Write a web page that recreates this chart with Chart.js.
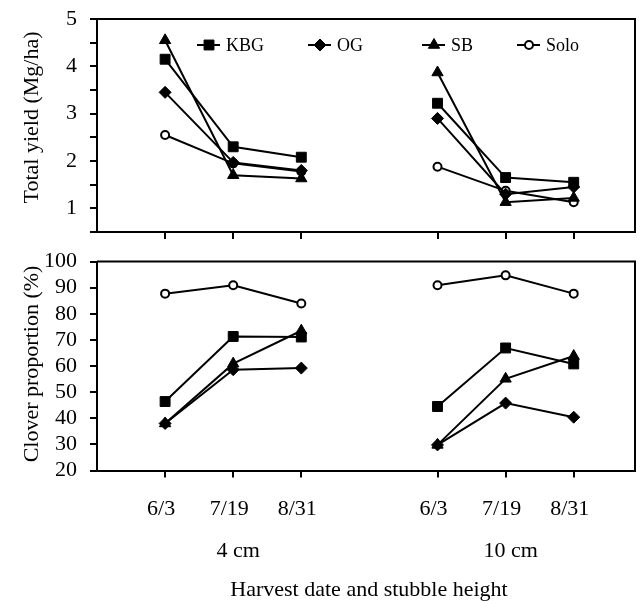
<!DOCTYPE html>
<html><head><meta charset="utf-8">
<script src="https://cdn.jsdelivr.net/npm/chart.js@4/dist/chart.umd.min.js"></script>
<style>
html,body{margin:0;padding:0;background:#fff;}
#wrap{position:relative;width:643px;height:601px;overflow:hidden;}
#c1{position:absolute;left:0;top:0;}
#c2{position:absolute;left:0;top:245px;}
</style></head><body>
<div id="wrap"><canvas id="c1" width="643" height="245"></canvas><canvas id="c2" width="643" height="356"></canvas></div>
<script>
// ---- data ----
const dates = ['6/3', '7/19', '8/31'];
const heights = ['4 cm', '10 cm'];
const seriesNames = ['KBG', 'OG', 'SB', 'Solo'];
const yieldKBG  = [4.15, 2.30, 2.08, 3.22, 1.65, 1.55];
const yieldOG   = [3.45, 1.97, 1.80, 2.90, 1.30, 1.45];
const yieldSB   = [4.55, 1.70, 1.63, 3.87, 1.13, 1.22];
const yieldSolo = [2.55, 1.95, 1.78, 1.88, 1.37, 1.13];
const cloverKBG  = [46.4, 71.3, 71.1, 44.5, 66.9, 60.8];
const cloverOG   = [38.0, 58.6, 59.2, 29.8, 45.8, 40.4];
const cloverSB   = [38.0, 60.9, 73.5, 29.8, 55.1, 63.8];
const cloverSolo = [87.7, 90.9, 83.9, 90.9, 94.7, 87.7];
const yieldTicks = [1, 2, 3, 4, 5];
const cloverTicks = [20, 30, 40, 50, 60, 70, 80, 90, 100];
const yieldTitle = 'Total yield (Mg/ha)';
const cloverTitle = 'Clover proportion (%)';
const xTitle = 'Harvest date and stubble height';

// ---- helpers ----
const FONT = 'Liberation Serif';
const slotsPerGroup = dates.length + 1;
const xTickVals = [];
const xTickText = {};
heights.forEach((h, g) => dates.forEach((d, i) => {
  const v = g * slotsPerGroup + i + 1; xTickVals.push(v); xTickText[v] = d;
}));
function pts(vals) {
  const out = [];
  heights.forEach((h, g) => {
    if (g > 0) out.push({x: g * slotsPerGroup, y: null});
    dates.forEach((d, i) => out.push({x: g * slotsPerGroup + i + 1, y: vals[g * dates.length + i]}));
  });
  return out;
}
const styles = [
  {pointStyle: 'rect', pointRadius: 7, pointBackgroundColor: '#000', pointBorderWidth: 1},
  {pointStyle: 'rectRot', pointRadius: 6, pointBackgroundColor: '#000', pointBorderWidth: 1},
  {pointStyle: 'triangle', pointRadius: 6.5, pointBackgroundColor: '#000', pointBorderWidth: 1},
  {pointStyle: 'circle', pointRadius: 4, pointBackgroundColor: '#fff', pointBorderWidth: 2}
];
function makeDatasets(arrs) {
  return arrs.map((a, k) => Object.assign({
    label: seriesNames[k], data: pts(a), borderColor: '#000', borderWidth: 2,
    pointBorderColor: '#000', pointHoverRadius: 6, spanGaps: false, tension: 0, fill: false, clip: false
  }, styles[k]));
}
function noPad(s) { s.paddingTop = 0; s.paddingBottom = 0; s.paddingLeft = 0; s.paddingRight = 0; }
function xScale(showLabels, h) {
  return {
    type: 'linear', min: 0, max: 7.9,
    afterBuildTicks: s => { s.ticks = xTickVals.map(v => ({value: v})); },
    afterFit: s => { s.height = h; noPad(s); },
    grid: {drawOnChartArea: false, drawTicks: true, tickLength: 7, color: '#000', lineWidth: 2},
    border: {display: true, color: '#000', width: 2},
    ticks: {display: true, autoSkip: false, maxRotation: 0, padding: 19, labelOffset: -4,
      color: '#000', font: {family: FONT, size: 22},
      callback: v => showLabels ? (xTickText[v] || '') : ''}
  };
}
function yScale(min, max, step, labelled) {
  return {
    type: 'linear', min: min, max: max,
    afterBuildTicks: s => {
      const t = [];
      for (let v = min; v <= max + 1e-9; v += step) t.push({value: Math.round(v * 1000) / 1000});
      s.ticks = t;
    },
    afterFit: s => { s.width = 97; noPad(s); },
    grid: {drawOnChartArea: false, drawTicks: true, tickLength: 7, color: '#000', lineWidth: 2},
    border: {display: true, color: '#000', width: 2},
    ticks: {autoSkip: false, padding: 13, color: '#000', font: {family: FONT, size: 22},
      callback: v => labelled.includes(v) ? String(v) : ''}
  };
}
const framePlugin = {
  id: 'frame',
  afterDraw(chart) {
    const {ctx, chartArea: a} = chart;
    ctx.save(); ctx.strokeStyle = '#000'; ctx.lineWidth = 2;
    ctx.beginPath(); ctx.moveTo(a.left, a.top); ctx.lineTo(a.right, a.top); ctx.lineTo(a.right, a.bottom); ctx.stroke();
    const t = chart.options.plugins.frame;
    ctx.fillStyle = '#000'; ctx.font = '22px "' + FONT + '"'; ctx.textAlign = 'center'; ctx.textBaseline = 'middle';
    ctx.save(); ctx.translate(32, (a.top + a.bottom) / 2 + t.yTitleShift); ctx.rotate(-Math.PI / 2);
    ctx.fillText(t.yTitle, 0, 0); ctx.restore();
    if (t.groups) {
      const xs = chart.scales.x;
      heights.forEach((h, g) => {
        ctx.fillText(h, xs.getPixelForValue(g * slotsPerGroup + 2) + 5, a.bottom + 81);
      });
      ctx.fillText(xTitle, (a.left + a.right) / 2 + 3, a.bottom + 120);
    }
    ctx.restore();
  }
};
const legendPlugin = {
  id: 'innerLegend',
  afterDraw(chart) {
    const o = chart.options.plugins.innerLegend;
    if (!o || !o.show) return;
    const ctx = chart.ctx;
    const starts = [197, 308, 422, 517];
    const y = 45;
    chart.data.datasets.forEach((ds, k) => {
      const x0 = starts[k];
      ctx.save();
      ctx.strokeStyle = '#000'; ctx.lineWidth = 2;
      ctx.beginPath(); ctx.moveTo(x0, y); ctx.lineTo(x0 + 23, y); ctx.stroke();
      ctx.fillStyle = ds.pointBackgroundColor; ctx.strokeStyle = '#000'; ctx.lineWidth = ds.pointBorderWidth;
      Chart.helpers.drawPoint(ctx, {pointStyle: ds.pointStyle, radius: ds.pointRadius, rotation: 0, borderWidth: ds.pointBorderWidth}, x0 + 12, y);
      ctx.fillStyle = '#000'; ctx.font = '18px "' + FONT + '"'; ctx.textAlign = 'left'; ctx.textBaseline = 'middle';
      ctx.fillText(ds.label, x0 + 29, y + 1);
      ctx.restore();
    });
  }
};
Chart.register(framePlugin, legendPlugin);

new Chart(document.getElementById('c1'), {
  type: 'line',
  data: {datasets: makeDatasets([yieldKBG, yieldOG, yieldSB, yieldSolo])},
  options: {
    responsive: false, animation: false, devicePixelRatio: 1,
    layout: {padding: {top: 19, right: 8, left: 0, bottom: 0}},
    scales: {x: xScale(false, 13), y: yScale(0.5, 5, 0.5, yieldTicks)},
    plugins: {legend: {display: false}, tooltip: {enabled: false},
      frame: {yTitle: yieldTitle, yTitleShift: -8, groups: false},
      innerLegend: {show: true}}
  }
});
new Chart(document.getElementById('c2'), {
  type: 'line',
  data: {datasets: makeDatasets([cloverKBG, cloverOG, cloverSB, cloverSolo])},
  options: {
    responsive: false, animation: false, devicePixelRatio: 1,
    layout: {padding: {top: 16.5, right: 8, left: 0, bottom: 0}},
    scales: {x: xScale(true, 130.5), y: yScale(20, 100, 10, cloverTicks)},
    plugins: {legend: {display: false}, tooltip: {enabled: false},
      frame: {yTitle: cloverTitle, yTitleShift: -2, groups: true},
      innerLegend: {show: false}}
  }
});
</script>
</body></html>
